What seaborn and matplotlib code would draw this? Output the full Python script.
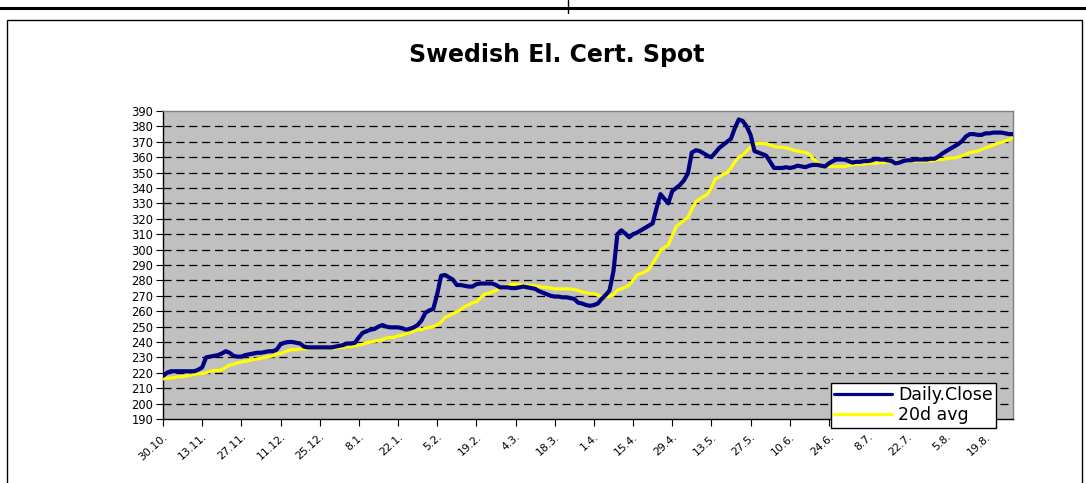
import matplotlib
matplotlib.use("Agg")
import matplotlib.pyplot as plt
import matplotlib.transforms as mtransforms
from matplotlib.lines import Line2D
from matplotlib.patches import Rectangle
import seaborn as sns
import pandas as pd

# Daily close, one value per trading day
daily_close = [
    218, 220, 221, 221, 221, 221, 221, 221, 221, 222,
    223.5, 230, 230.5, 231, 231.5, 232.5, 234, 233, 231, 230.5,
    230.5, 231.5, 232, 232.5, 233, 233, 233.5, 234, 234, 235,
    238.5, 239.5, 240, 240, 239.5, 239, 237, 236.5, 236.5, 236.5,
    236.5, 236.5, 236.5, 236.5, 237, 237.5, 238, 239, 239, 239.5,
    243, 246, 247, 248, 248.5, 250, 251, 250, 249.5, 249.5,
    249.5, 249, 248, 248.5, 249.5, 251, 254, 259, 260.5, 261.5,
    271, 283, 283.5, 282, 280.5, 277, 277, 276.5, 276, 276,
    277.5, 278, 278, 278, 278, 277, 275.5, 275.5, 275.5, 275,
    275, 275.5, 276, 275.5, 275, 274.5, 273, 272, 271, 270,
    269.5, 269.5, 269, 269, 268.5, 268, 265.5, 265, 264, 263.5,
    264, 265, 268, 270.5, 273.5, 286, 310, 312.5, 310.5, 308,
    310, 311, 312.5, 314, 315.5, 317, 327, 336, 333, 330,
    338, 340, 342, 345, 349.5, 363, 364.5, 364, 362.5, 361,
    360, 363, 366, 368, 370, 372, 379, 384.5, 383.5, 380,
    374.5, 364, 363, 362, 361, 357, 353, 353, 353, 353.5,
    353, 353.5, 354.5, 354, 353.5, 354.5, 355, 355, 354.5, 354,
    356, 357.5, 358.5, 358.5, 358.5, 357.5, 356.5, 357, 357, 357.5,
    357.5, 358, 359, 358.5, 358.5, 358, 357.5, 356, 356.5, 357.5,
    358, 358, 358.5, 358.5, 358.5, 358.5, 359, 359, 360.5, 362.5,
    364, 365.5, 367, 368.5, 370.5, 373.5, 375, 375, 374.5, 374.5,
    375.5, 375.5, 376, 376, 376, 375.5, 375, 375,
]

# 20 day moving average
avg_20d = [
    216, 216.5, 216.5, 217, 217.5, 217.5, 218, 218.5, 219, 219.5,
    219.5, 220, 221, 221.5, 221.5, 222, 223.5, 225, 225.5, 226.5,
    227, 227.5, 228, 228.5, 229, 229.5, 230, 230.5, 231, 232,
    232.5, 233.5, 234.5, 235, 235, 235.5, 235.5, 235.5, 236, 236,
    236, 236, 236, 236, 236, 236.5, 236.5, 237, 237, 237.5,
    238, 238.5, 239.5, 240, 240.5, 241, 241.5, 242.5, 243, 243,
    244, 244.5, 245.5, 246, 247, 248, 248, 249, 249.5, 250,
    251, 253, 256, 257, 258.5, 259.5, 261, 263, 264, 265.5,
    266, 268.5, 271, 271.5, 272.5, 273.5, 275, 276, 276.5, 277.5,
    277.5, 277.5, 277, 277, 276.5, 276.5, 276, 275.5, 275.5, 275,
    274.5, 274.5, 274.5, 274.5, 274.5, 274, 273.5, 272.5, 272, 271.5,
    271.5, 270.5, 269.5, 269.5, 269.5, 271, 273.5, 274.5, 275.5, 277,
    280, 283.5, 284.5, 285.5, 287, 291, 295, 299.5, 301.5, 303,
    309, 315, 317, 319, 321, 326, 331, 333, 334.5, 336,
    340, 346, 347, 349, 350, 353, 357, 360, 361.5, 364,
    366.5, 368.5, 369, 369, 368.5, 368, 367, 366.5, 366.5, 366,
    365.5, 364.5, 364, 363.5, 363, 362, 359, 356.5, 355, 354,
    354, 354, 354, 354, 354, 354.5, 355, 355.5, 355.5, 355.5,
    356, 356, 356, 356.5, 356.5, 357, 357, 357, 357, 357.5,
    357.5, 357.5, 357.5, 357.5, 357.5, 357.5, 357.5, 358, 358.5, 358.5,
    359, 359.5, 359.5, 360, 361, 362, 363, 363.5, 364, 365,
    366, 367, 368, 369, 369.5, 370.5, 371.5, 372.5,
]

# date labels, one every 10 trading days
tick_labels = ["30.10.", "13.11.", "27.11.", "11.12.", "25.12.", "8.1.", "22.1.",
               "5.2.", "19.2.", "4.3.", "18.3.", "1.4.", "15.4.", "29.4.", "13.5.",
               "27.5.", "10.6.", "24.6.", "8.7.", "22.7.", "5.8.", "19.8."]

df = pd.DataFrame({"day": range(len(daily_close)),
                   "Daily.Close": daily_close,
                   "20d avg": avg_20d})

sns.set_style("white")
plt.rcParams["font.family"] = ["DejaVu Sans"]
plt.rcParams["text.color"] = "black"
plt.rcParams["xtick.color"] = "black"
plt.rcParams["ytick.color"] = "black"
plt.rcParams["axes.labelcolor"] = "black"

fig = plt.figure(figsize=(10.86, 4.83), dpi=100)
ax = fig.add_axes([163 / 1086, 1 - 419 / 483, 850 / 1086, 308 / 483])
ax.set_facecolor("#C0C0C0")

# dashed grid lines
for v in range(200, 390, 10):
    ax.axhline(v, color="black", lw=0.9, dashes=(6.5, 3.8), zorder=1)

sns.lineplot(data=df, x="day", y="20d avg", ax=ax, color="#FFFF00", lw=2.3, zorder=3)
sns.lineplot(data=df, x="day", y="Daily.Close", ax=ax, color="#000080", lw=3.0, zorder=4)

ax.set_xlim(0, len(daily_close) - 1)
ax.set_ylim(190, 390)
ax.set_yticks(range(190, 391, 10))
ax.set_xticks(range(0, 10 * len(tick_labels), 10))
ax.set_xticklabels(tick_labels, rotation=42, ha="right", rotation_mode="anchor",
                   fontsize=7.8)
shift = mtransforms.ScaledTranslation(-7 / 100, 0, fig.dpi_scale_trans)
for lbl in ax.get_xticklabels():
    lbl.set_transform(lbl.get_transform() + shift)
ax.tick_params(axis="y", labelsize=8.3, length=5, width=0.8, direction="out",
               left=True, pad=2)
ax.tick_params(axis="x", length=5, width=0.8, direction="out", bottom=True, pad=4)
ax.set_xlabel("")
ax.set_ylabel("")

for side in ["top", "right"]:
    ax.spines[side].set_color("#808080")
    ax.spines[side].set_linewidth(1)
for side in ["left", "bottom"]:
    ax.spines[side].set_color("black")
    ax.spines[side].set_linewidth(1)

fig.text(557 / 1086, 1 - 62 / 483, "Swedish El. Cert. Spot", ha="center",
         va="baseline", fontsize=17, fontweight="bold", color="black")

handles = [Line2D([], [], color="#000080", lw=2.3),
           Line2D([], [], color="#FFFF00", lw=2.3)]
leg = ax.legend(handles, ["Daily.Close", "20d avg"], loc="upper left",
                bbox_to_anchor=(831 / 1086, 1 - 383 / 483),
                bbox_transform=fig.transFigure, borderaxespad=0,
                prop={"size": 12.5}, frameon=True, fancybox=False, framealpha=1,
                edgecolor="black", handlelength=3.3, handletextpad=0.35,
                borderpad=0.2, labelspacing=0.1)
leg.get_frame().set_linewidth(1)
leg.set_zorder(10)

# outer frame lines of the sheet
fig.add_artist(Line2D([0, 1], [1 - 8 / 483, 1 - 8 / 483], color="black", lw=2.2,
                      transform=fig.transFigure))
fig.add_artist(Line2D([568 / 1086, 568 / 1086], [1, 1 - 13 / 483], color="black",
                      lw=1, transform=fig.transFigure))
fig.add_artist(Rectangle((7 / 1086, -0.05), 1075 / 1086, 1 - 20 / 483 + 0.05,
                         fill=False, edgecolor="black", lw=1,
                         transform=fig.transFigure))

fig.savefig("out.png", dpi=100)
